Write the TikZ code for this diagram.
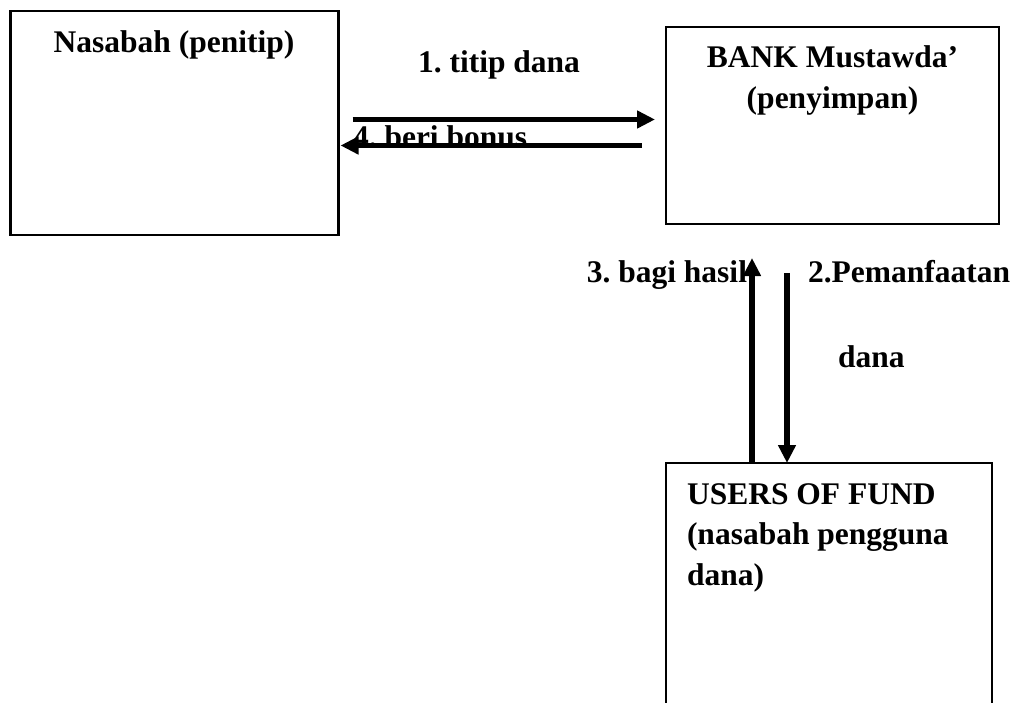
\documentclass[tikz,border=0pt]{standalone}
\usepackage{fontspec}
\setmainfont{Liberation Serif}
\usetikzlibrary{arrows.meta,calc}
\begin{document}
\begin{tikzpicture}[x=1pt,y=-1pt,
  box/.style={draw,line width=2.6pt,rectangle,inner sep=0pt,outer sep=0pt,anchor=north west},
  openbox/.style={rectangle,inner sep=0pt,outer sep=0pt,anchor=north west},
  boxline/.style={line width=2.6pt},
  lbl/.style={font=\fontsize{31.5}{40.5}\selectfont\bfseries\frenchspacing,inner sep=0pt,outer sep=0pt},
  arr/.style={line width=5.6pt,-{Triangle[length=18pt,width=17pt]}}]
\useasboundingbox (0,0) rectangle (1022,703);
% boxes
\node[box,minimum width=328pt,minimum height=224pt] (nas) at (10.5,11) {};
\node[box,minimum width=333pt,minimum height=197pt] (bank) at (666,27) {};
\node[openbox,minimum width=326pt,minimum height=250pt] (users) at (666,463) {};
\draw[boxline] (users.south west) -- (users.north west) -- (users.north east) -- (users.south east);
% box texts (base anchor = baseline of the last line)
\node[lbl,anchor=base] (nastxt) at (174,53) {Nasabah (penitip)};
\node[lbl,anchor=base,align=center] (banktxt) at (832.5,108.5) {BANK Mustawda’\\(penyimpan)};
\node[lbl,anchor=base west,align=left] (userstxt) at (687,585) {USERS OF FUND\\(nasabah pengguna\\dana)};
% connector labels
\node[lbl,anchor=base] (l1) at (499,73) {1. titip dana};
\node[lbl,anchor=base west] (l4) at (353,148) {4. beri bonus};
\node[lbl,anchor=base east] (l3) at (747,283) {3. bagi hasil};
\node[lbl,anchor=base west] (l2) at (808,283) {2.Pemanfaatan};
\node[lbl,anchor=base west] (l2b) at (838,367) {dana};
% helper coordinates
\coordinate (ya) at (0,119.5);
\coordinate (yb) at (0,145.5);
\coordinate (xa) at (752,0);
\coordinate (xb) at (787,0);
% connectors
\draw[arr,shorten <=14pt,shorten >=11pt] (nas.east |- ya) -- (bank.west |- ya);
\draw[arr,shorten <=24pt,shorten >=2pt] (bank.west |- yb) -- (nas.east |- yb);
\draw[arr,shorten >=34pt] (xa |- users.north) -- (xa |- bank.south);
\draw[arr,shorten <=49pt] (xb |- bank.south) -- (xb |- users.north);
\end{tikzpicture}
\end{document}
